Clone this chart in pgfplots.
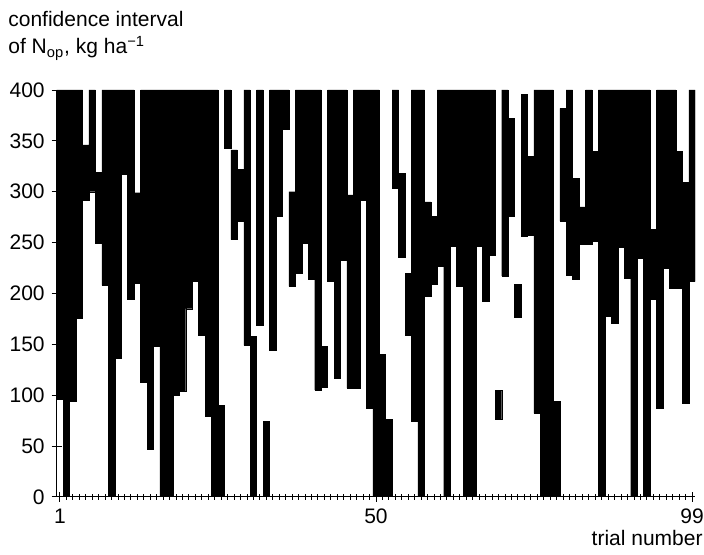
\documentclass[border=0pt]{standalone}
\usepackage{fontspec}
\setmainfont{Liberation Sans}
\usepackage{pgfplots}
\usepackage{pgfplotstable}
\pgfplotsset{compat=1.18}

% confidence interval of Nop per trial: lower and upper limit (clipped at 400)
\pgfplotstableread{
t lo hi
1 96 400
2 0 400
3 94 400
4 176 400
5 292 346
6 300 400
7 249 319
8 208 400
9 0 400
10 136 400
11 317 400
12 194 400
13 210 299
14 113 400
15 47 400
16 148 400
17 0 400
18 0 400
19 100 400
20 104 400
21 185 400
22 212 400
23 159 400
24 79 400
25 0 400
26 0 90
27 343 400
28 253 341
29 271 322
30 149 400
31 0 158
32 169 400
33 0 74
34 144 400
35 276 400
36 361 400
37 207 300
38 220 400
39 249 400
40 214 400
41 105 400
42 108 148
43 212 400
44 117 400
45 233 400
46 107 297
47 107 400
48 292 400
49 87 400
50 0 400
51 0 140
52 0 76
53 303 400
54 236 318
55 159 220
56 74 400
57 0 400
58 197 290
59 209 276
60 227 400
61 0 400
62 246 400
63 207 400
64 0 400
65 0 400
66 246 400
67 192 400
68 238 400
69 76 105
70 217 400
71 276 372
72 177 209
73 256 396
74 257 335
75 82 400
76 0 400
77 0 400
78 0 94
79 271 382
80 218 400
81 214 313
82 248 285
83 248 400
84 251 340
85 0 400
86 178 400
87 171 400
88 245 400
89 215 400
90 0 400
91 235 400
92 0 400
93 194 263
94 87 400
95 225 400
96 205 400
97 205 340
98 92 309
99 212 400
}\ci

\begin{document}
\begin{tikzpicture}
\begin{axis}[
    scale only axis,
    width=319.3pt, height=203.5pt,
    xmin=0.5, xmax=99.5,
    ymin=0, ymax=400,
    clip mode=individual,
    axis x line*=bottom, axis y line*=left,
    axis line style={line width=0.5pt},
    xtick={1,50,99},
    minor xtick={2,...,98},
    ytick={0,50,...,400},
    tick align=center,
    major tick length=5pt, minor tick length=3pt,
    tick style={black, line width=0.45pt},
    every tick label/.append style={font=\fontsize{10.5}{12}\selectfont},
    /pgf/number format/assume math mode=true,
    ybar stacked, bar width=1,
]
    \addplot[draw=none, fill=none] table[x=t, y=lo] {\ci};
    \addplot[fill=black, draw=black, line width=0.2pt]
        table[x=t, y expr=\thisrow{hi}-\thisrow{lo}] {\ci};

    \node[anchor=base west, font=\fontsize{10.5}{12}\selectfont, inner sep=0pt]
        at (rel axis cs:-0.0763,1.1548) {confidence interval};
    \node[anchor=base west, font=\fontsize{10.5}{12}\selectfont, inner sep=0pt]
        at (rel axis cs:-0.0763,1.0885) {of N\textsubscript{op}, kg ha\textsuperscript{−1}};
    \node[anchor=base east, font=\fontsize{10.5}{12}\selectfont, inner sep=0pt]
        at (rel axis cs:1.0121,-0.1204) {trial number};

    \coordinate (bl) at (rel axis cs:-0.0888,-0.1425);
    \coordinate (tr) at (rel axis cs:1.0137,1.2211);
\end{axis}
\pgfresetboundingbox
\useasboundingbox (bl) rectangle (tr);
\end{tikzpicture}
\end{document}
